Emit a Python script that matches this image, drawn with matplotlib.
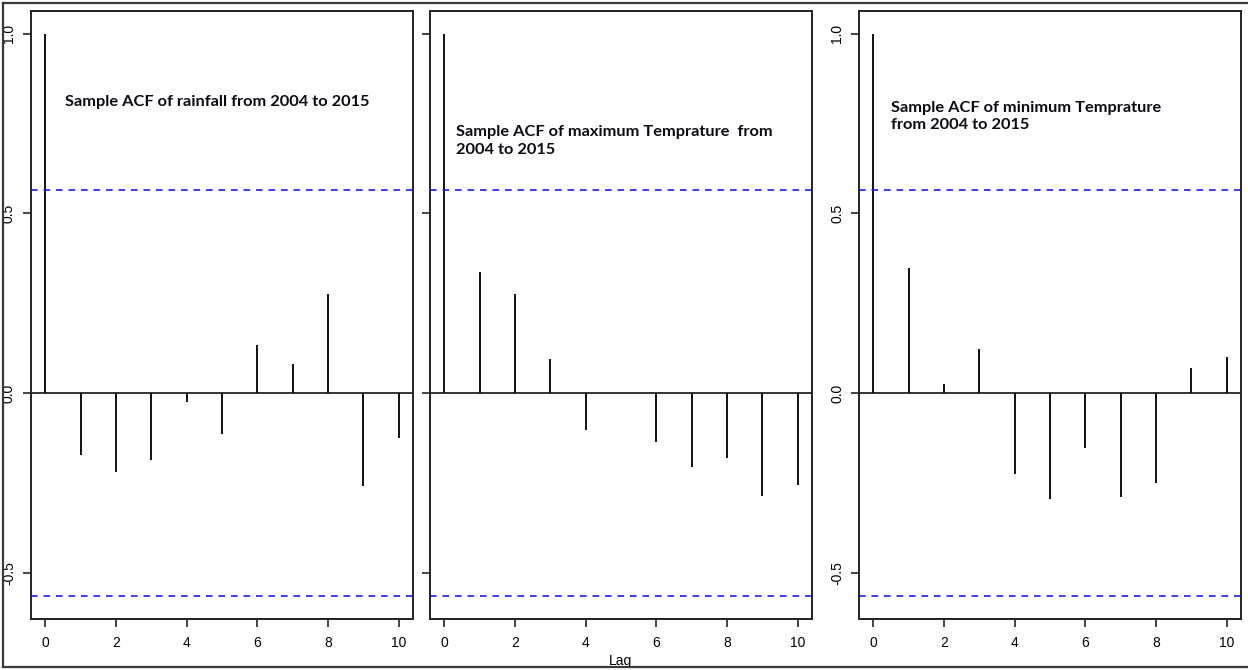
import numpy as np
import matplotlib
matplotlib.use('Agg')
import matplotlib.pyplot as plt
from matplotlib.lines import Line2D

# sample ACF values, lags 0..10
lags = list(range(11))
acf_rain = [1.0, -0.172, -0.219, -0.186, -0.026, -0.113, 0.133, 0.082, 0.276, -0.258, -0.126]
acf_tmax = [1.0, 0.337, 0.275, 0.096, -0.103, 0.0, -0.137, -0.206, -0.180, -0.285, -0.257]
acf_tmin = [1.0, 0.348, 0.026, 0.123, -0.226, -0.295, -0.152, -0.289, -0.250, 0.070, 0.100]
n_obs = 12  # years 2004..2015

titles = ['Sample ACF of rainfall from 2004 to 2015',
          'Sample ACF of maximum Temprature  from\n2004 to 2015',
          'Sample ACF of minimum Temprature\nfrom 2004 to 2015']
yticks = [-0.5, 0.0, 0.5, 1.0]
ytick_labels = ['-0.5', '0.0', '0.5', '1.0']
xticks = [0, 2, 4, 6, 8, 10]

W, H = 1248, 670
fig = plt.figure(figsize=(W / 100, H / 100), dpi=100)
plt.rcParams['font.family'] = 'Liberation Sans'

clim = 1.96 / np.sqrt(n_obs)

# panel boxes in pixels: left, right ; top and bottom shared
boxes = [(31, 413), (430, 812), (859, 1241)]
top, bottom = 11, 619
title_pos = [(0.089, 0.851), (0.068, 0.786), (0.084, 0.827)]
show_ylabels = [True, False, True]

for i, acf in enumerate([acf_rain, acf_tmax, acf_tmin]):
    l, r = boxes[i]
    ax = fig.add_axes([l / W, 1 - bottom / H, (r - l) / W, (bottom - top) / H])
    ax.vlines(lags, 0, acf, color='#111111', lw=1.4)
    ax.axhline(0, color='#111111', lw=1.2)
    ax.axhline(clim, color='#1a1aff', lw=1.2, ls=(0, (4, 3.5)))
    ax.axhline(-clim, color='#1a1aff', lw=1.2, ls=(0, (4, 3.5)))

    # R style 4% extension of the ranges
    lo = min(-clim, min(acf))
    hi = max(clim, max(acf))
    ext = (hi - lo) * 0.04
    ax.set_ylim(lo - ext, hi + ext)
    ax.set_xlim(-0.4, 10.4)

    ax.set_xticks(xticks)
    ax.set_yticks(yticks)
    if show_ylabels[i]:
        ax.set_yticklabels(ytick_labels, rotation=90, va='center')
    else:
        ax.set_yticklabels([])
    ax.tick_params(axis='both', length=5.8, width=1.2, color='#222222', labelsize=10)
    ax.tick_params(axis='x', pad=6.5)
    ax.tick_params(axis='y', pad=5)
    for s in ax.spines.values():
        s.set_linewidth(1.4)
        s.set_color('#222222')

    ax.text(title_pos[i][0], title_pos[i][1], titles[i], transform=ax.transAxes,
            ha='left', va='center', fontsize=11.8, fontweight='bold',
            family=['Lato', 'DejaVu Sans'], linespacing=1.3, color='#0a0a14')

    if i == 1:
        ax.set_xlabel('Lag', fontsize=10, labelpad=2.5)

# outer frame: top, left, bottom
fc = '#3a3a3a'
fig.add_artist(Line2D([3 / W, 1], [1 - 3 / H, 1 - 3 / H], color=fc, lw=1.6, transform=fig.transFigure))
fig.add_artist(Line2D([3 / W, 3 / W], [1 - 3 / H, 1 - 667 / H], color=fc, lw=1.6, transform=fig.transFigure))
fig.add_artist(Line2D([3 / W, 1], [1 - 667 / H, 1 - 667 / H], color=fc, lw=1.6, transform=fig.transFigure))

fig.savefig('out.png', dpi=100)
